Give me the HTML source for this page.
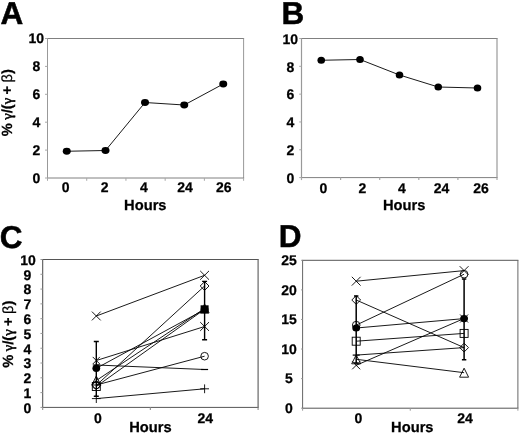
<!DOCTYPE html>
<html lang="en">
<head>
<meta charset="utf-8">
<title>Figure</title>
<style>
html,body{margin:0;padding:0;background:#fff;}
body{width:520px;height:434px;overflow:hidden;}
svg{display:block;}
text{font-family:"Liberation Sans", Arial, Helvetica, sans-serif;font-weight:bold;fill:#000;stroke:#000;stroke-width:0.25px;text-rendering:geometricPrecision;}
.g{font-family:"Liberation Serif","DejaVu Serif",serif;font-weight:normal;stroke-width:0.5px;}
.yt{word-spacing:-0.7px;}
.b{font-family:"Liberation Sans","DejaVu Sans",sans-serif;font-weight:normal;}
</style>
</head>
<body>
<svg width="520" height="434" viewBox="0 0 520 434">
<rect x="0" y="0" width="520" height="434" fill="#fff"/>
<text x="0.60" y="23.80" font-size="31.5" text-anchor="start" style="stroke-width:0.5px">A</text>
<text x="281.40" y="24.00" font-size="31.5" text-anchor="start" style="stroke-width:0.5px">B</text>
<text x="-0.30" y="247.50" font-size="31.5" text-anchor="start" style="stroke-width:0.5px">C</text>
<text x="278.80" y="246.80" font-size="31.5" text-anchor="start" style="stroke-width:0.5px">D</text>
<line x1="47.00" y1="38.50" x2="244.10" y2="38.50" stroke="#808080" stroke-width="1" />
<line x1="243.60" y1="38.50" x2="243.60" y2="178.00" stroke="#999" stroke-width="1" />
<line x1="47.00" y1="178.00" x2="244.10" y2="178.00" stroke="#808080" stroke-width="1" />
<line x1="47.50" y1="38.50" x2="47.50" y2="178.00" stroke="#999" stroke-width="1" />
<line x1="45.00" y1="38.50" x2="47.50" y2="38.50" stroke="#a8a8a8" stroke-width="1" />
<line x1="45.00" y1="150.10" x2="47.50" y2="150.10" stroke="#a8a8a8" stroke-width="1" />
<line x1="45.00" y1="122.20" x2="47.50" y2="122.20" stroke="#a8a8a8" stroke-width="1" />
<line x1="45.00" y1="94.30" x2="47.50" y2="94.30" stroke="#a8a8a8" stroke-width="1" />
<line x1="45.00" y1="66.40" x2="47.50" y2="66.40" stroke="#a8a8a8" stroke-width="1" />
<line x1="45.00" y1="178.00" x2="47.50" y2="178.00" stroke="#a8a8a8" stroke-width="1" />
<line x1="47.50" y1="178.00" x2="47.50" y2="180.80" stroke="#a8a8a8" stroke-width="1" />
<line x1="86.72" y1="178.00" x2="86.72" y2="180.80" stroke="#a8a8a8" stroke-width="1" />
<line x1="125.94" y1="178.00" x2="125.94" y2="180.80" stroke="#a8a8a8" stroke-width="1" />
<line x1="165.16" y1="178.00" x2="165.16" y2="180.80" stroke="#a8a8a8" stroke-width="1" />
<line x1="204.38" y1="178.00" x2="204.38" y2="180.80" stroke="#a8a8a8" stroke-width="1" />
<line x1="243.60" y1="178.00" x2="243.60" y2="180.80" stroke="#a8a8a8" stroke-width="1" />
<text x="36.30" y="182.70" font-size="14" text-anchor="middle" >0</text>
<text x="36.30" y="154.80" font-size="14" text-anchor="middle" >2</text>
<text x="36.30" y="126.90" font-size="14" text-anchor="middle" >4</text>
<text x="36.30" y="99.00" font-size="14" text-anchor="middle" >6</text>
<text x="36.30" y="71.10" font-size="14" text-anchor="middle" >8</text>
<text x="36.30" y="43.20" font-size="14" text-anchor="middle" >10</text>
<text x="65.60" y="192.30" font-size="14" text-anchor="middle" >0</text>
<text x="104.60" y="192.30" font-size="14" text-anchor="middle" >2</text>
<text x="143.90" y="192.30" font-size="14" text-anchor="middle" >4</text>
<text x="185.00" y="192.30" font-size="14" text-anchor="middle" >24</text>
<text x="223.80" y="192.30" font-size="14" text-anchor="middle" >26</text>
<text x="145.30" y="209.70" font-size="14.7" text-anchor="middle" >Hours</text>
<text transform="translate(12.20,102.70) rotate(-90)" font-size="14.7" text-anchor="middle" class="yt">% <tspan class="g">γ</tspan>/(<tspan class="g">γ</tspan> + <tspan class="b">β</tspan>)</text>
<polyline points="66.75,151.25 105.50,150.50 145.00,102.50 184.25,105.00 223.25,84.00" fill="none" stroke="#000" stroke-width="0.9"/>
<ellipse cx="66.75" cy="151.25" rx="4.0" ry="3.4" fill="#000"/>
<ellipse cx="105.50" cy="150.50" rx="4.0" ry="3.4" fill="#000"/>
<ellipse cx="145.00" cy="102.50" rx="4.0" ry="3.4" fill="#000"/>
<ellipse cx="184.25" cy="105.00" rx="4.0" ry="3.4" fill="#000"/>
<ellipse cx="223.25" cy="84.00" rx="4.0" ry="3.4" fill="#000"/>
<line x1="300.90" y1="38.50" x2="497.60" y2="38.50" stroke="#808080" stroke-width="1" />
<line x1="497.00" y1="38.50" x2="497.00" y2="177.60" stroke="#999" stroke-width="1.2" />
<line x1="300.90" y1="177.60" x2="497.60" y2="177.60" stroke="#808080" stroke-width="1" />
<line x1="301.50" y1="38.50" x2="301.50" y2="177.60" stroke="#999" stroke-width="1.2" />
<line x1="299.20" y1="38.50" x2="301.50" y2="38.50" stroke="#a8a8a8" stroke-width="1" />
<line x1="299.20" y1="149.78" x2="301.50" y2="149.78" stroke="#a8a8a8" stroke-width="1" />
<line x1="299.20" y1="121.96" x2="301.50" y2="121.96" stroke="#a8a8a8" stroke-width="1" />
<line x1="299.20" y1="94.14" x2="301.50" y2="94.14" stroke="#a8a8a8" stroke-width="1" />
<line x1="299.20" y1="66.32" x2="301.50" y2="66.32" stroke="#a8a8a8" stroke-width="1" />
<line x1="299.20" y1="177.60" x2="301.50" y2="177.60" stroke="#a8a8a8" stroke-width="1" />
<line x1="301.50" y1="177.60" x2="301.50" y2="180.10" stroke="#a8a8a8" stroke-width="1.2" />
<line x1="340.60" y1="177.60" x2="340.60" y2="180.10" stroke="#a8a8a8" stroke-width="1.2" />
<line x1="379.70" y1="177.60" x2="379.70" y2="180.10" stroke="#a8a8a8" stroke-width="1.2" />
<line x1="418.80" y1="177.60" x2="418.80" y2="180.10" stroke="#a8a8a8" stroke-width="1.2" />
<line x1="457.90" y1="177.60" x2="457.90" y2="180.10" stroke="#a8a8a8" stroke-width="1.2" />
<line x1="497.00" y1="177.60" x2="497.00" y2="180.10" stroke="#a8a8a8" stroke-width="1.2" />
<text x="290.30" y="182.80" font-size="14" text-anchor="middle" >0</text>
<text x="290.30" y="154.98" font-size="14" text-anchor="middle" >2</text>
<text x="290.30" y="127.16" font-size="14" text-anchor="middle" >4</text>
<text x="290.30" y="99.34" font-size="14" text-anchor="middle" >6</text>
<text x="290.30" y="71.52" font-size="14" text-anchor="middle" >8</text>
<text x="290.30" y="43.70" font-size="14" text-anchor="middle" >10</text>
<text x="323.50" y="192.80" font-size="14" text-anchor="middle" >0</text>
<text x="362.50" y="192.80" font-size="14" text-anchor="middle" >2</text>
<text x="402.00" y="192.80" font-size="14" text-anchor="middle" >4</text>
<text x="441.60" y="192.80" font-size="14" text-anchor="middle" >24</text>
<text x="481.00" y="192.80" font-size="14" text-anchor="middle" >26</text>
<text x="404.20" y="209.70" font-size="14.7" text-anchor="middle" >Hours</text>
<polyline points="321.25,60.25 360.00,59.50 399.50,75.00 438.25,87.00 477.50,88.00" fill="none" stroke="#000" stroke-width="0.9"/>
<ellipse cx="321.25" cy="60.25" rx="3.8" ry="3.6" fill="#000"/>
<ellipse cx="360.00" cy="59.50" rx="3.8" ry="3.6" fill="#000"/>
<ellipse cx="399.50" cy="75.00" rx="3.8" ry="3.6" fill="#000"/>
<ellipse cx="438.25" cy="87.00" rx="3.8" ry="3.6" fill="#000"/>
<ellipse cx="477.50" cy="88.00" rx="3.8" ry="3.6" fill="#000"/>
<line x1="42.05" y1="259.50" x2="258.70" y2="259.50" stroke="#555" stroke-width="1" />
<line x1="258.10" y1="259.50" x2="258.10" y2="407.40" stroke="#666" stroke-width="1.2" />
<line x1="42.05" y1="407.40" x2="258.70" y2="407.40" stroke="#555" stroke-width="1" />
<line x1="42.65" y1="259.50" x2="42.65" y2="407.40" stroke="#666" stroke-width="1.2" />
<line x1="40.45" y1="259.50" x2="42.65" y2="259.50" stroke="#999" stroke-width="1" />
<line x1="40.45" y1="392.61" x2="42.65" y2="392.61" stroke="#999" stroke-width="1" />
<line x1="40.45" y1="377.82" x2="42.65" y2="377.82" stroke="#999" stroke-width="1" />
<line x1="40.45" y1="363.03" x2="42.65" y2="363.03" stroke="#999" stroke-width="1" />
<line x1="40.45" y1="348.24" x2="42.65" y2="348.24" stroke="#999" stroke-width="1" />
<line x1="40.45" y1="333.45" x2="42.65" y2="333.45" stroke="#999" stroke-width="1" />
<line x1="40.45" y1="318.66" x2="42.65" y2="318.66" stroke="#999" stroke-width="1" />
<line x1="40.45" y1="303.87" x2="42.65" y2="303.87" stroke="#999" stroke-width="1" />
<line x1="40.45" y1="289.08" x2="42.65" y2="289.08" stroke="#999" stroke-width="1" />
<line x1="40.45" y1="274.29" x2="42.65" y2="274.29" stroke="#999" stroke-width="1" />
<line x1="40.45" y1="407.40" x2="42.65" y2="407.40" stroke="#999" stroke-width="1" />
<line x1="42.65" y1="407.40" x2="42.65" y2="409.90" stroke="#999" stroke-width="1.2" />
<line x1="150.38" y1="407.40" x2="150.38" y2="409.90" stroke="#999" stroke-width="1.2" />
<line x1="258.10" y1="407.40" x2="258.10" y2="409.90" stroke="#999" stroke-width="1.2" />
<text x="27.50" y="412.80" font-size="14" text-anchor="middle" >0</text>
<text x="27.50" y="398.01" font-size="14" text-anchor="middle" >1</text>
<text x="27.50" y="383.22" font-size="14" text-anchor="middle" >2</text>
<text x="27.50" y="368.43" font-size="14" text-anchor="middle" >3</text>
<text x="27.50" y="353.64" font-size="14" text-anchor="middle" >4</text>
<text x="27.50" y="338.85" font-size="14" text-anchor="middle" >5</text>
<text x="27.50" y="324.06" font-size="14" text-anchor="middle" >6</text>
<text x="27.50" y="309.27" font-size="14" text-anchor="middle" >7</text>
<text x="27.50" y="294.48" font-size="14" text-anchor="middle" >8</text>
<text x="27.50" y="279.69" font-size="14" text-anchor="middle" >9</text>
<text x="28.10" y="264.90" font-size="14" text-anchor="middle" >10</text>
<text x="97.80" y="422.80" font-size="14" text-anchor="middle" >0</text>
<text x="205.20" y="422.50" font-size="14" text-anchor="middle" >24</text>
<text x="150.40" y="432.00" font-size="14.7" text-anchor="middle" >Hours</text>
<text transform="translate(12.60,334.20) rotate(-90)" font-size="14.7" text-anchor="middle" class="yt">% <tspan class="g">γ</tspan>/(<tspan class="g">γ</tspan> + <tspan class="b">β</tspan>)</text>
<line x1="96.30" y1="316.00" x2="204.60" y2="275.30" stroke="#000" stroke-width="0.9" />
<line x1="96.30" y1="385.30" x2="204.60" y2="286.00" stroke="#000" stroke-width="0.9" />
<line x1="96.30" y1="380.50" x2="204.60" y2="308.50" stroke="#000" stroke-width="0.9" />
<line x1="96.30" y1="386.50" x2="204.60" y2="309.30" stroke="#000" stroke-width="0.9" />
<line x1="96.30" y1="360.50" x2="204.60" y2="326.50" stroke="#000" stroke-width="0.9" />
<line x1="96.30" y1="365.00" x2="204.60" y2="369.50" stroke="#000" stroke-width="0.9" />
<line x1="96.30" y1="385.00" x2="204.60" y2="356.20" stroke="#000" stroke-width="0.9" />
<line x1="96.30" y1="398.60" x2="204.60" y2="388.80" stroke="#000" stroke-width="0.9" />
<line x1="96.30" y1="368.30" x2="204.60" y2="309.60" stroke="#000" stroke-width="0.9" />
<path d="M96.30 341.50L96.30 396.20M93.80 341.50L98.80 341.50M93.80 396.20L98.80 396.20" fill="none" stroke="#000" stroke-width="1.4"/>
<path d="M204.60 281.40L204.60 339.80M202.10 281.40L207.10 281.40M202.10 339.80L207.10 339.80" fill="none" stroke="#000" stroke-width="1.4"/>
<path d="M91.90 311.60L100.70 320.40M91.90 320.40L100.70 311.60" fill="none" stroke="#000" stroke-width="0.9"/>
<path d="M200.20 270.90L209.00 279.70M200.20 279.70L209.00 270.90" fill="none" stroke="#000" stroke-width="0.9"/>
<path d="M91.90 385.30L96.30 380.90L100.70 385.30L96.30 389.70Z" fill="none" stroke="#000" stroke-width="0.9"/>
<path d="M200.20 286.00L204.60 281.60L209.00 286.00L204.60 290.40Z" fill="none" stroke="#000" stroke-width="0.9"/>
<path d="M91.80 385.00L96.30 376.00L100.80 385.00Z" fill="none" stroke="#000" stroke-width="0.9"/>
<path d="M200.10 313.00L204.60 304.00L209.10 313.00Z" fill="none" stroke="#000" stroke-width="0.9"/>
<rect x="92.30" y="382.50" width="8.00" height="8.00" fill="none" stroke="#000" stroke-width="0.9"/>
<rect x="200.60" y="305.30" width="8.00" height="8.00" fill="#000"/>
<path d="M92.70 356.90L99.90 364.10M92.70 364.10L99.90 356.90" fill="none" stroke="#000" stroke-width="0.9"/>
<path d="M200.20 322.10L209.00 330.90M200.20 330.90L209.00 322.10M204.60 322.10L204.60 330.90" fill="none" stroke="#000" stroke-width="0.9"/>
<path d="M92.80 365.00L99.80 365.00" fill="none" stroke="#000" stroke-width="1.2"/>
<path d="M201.10 369.50L208.10 369.50" fill="none" stroke="#000" stroke-width="1.2"/>
<circle cx="96.30" cy="385.00" r="3.8" fill="none" stroke="#000" stroke-width="0.9"/>
<circle cx="204.60" cy="356.20" r="3.8" fill="none" stroke="#000" stroke-width="0.9"/>
<path d="M91.90 398.60L100.70 398.60M96.30 394.20L96.30 403.00" fill="none" stroke="#000" stroke-width="0.9"/>
<path d="M200.20 388.80L209.00 388.80M204.60 384.40L204.60 393.20" fill="none" stroke="#000" stroke-width="0.9"/>
<ellipse cx="96.30" cy="368.30" rx="3.9" ry="3.6" fill="#000"/>
<ellipse cx="204.60" cy="309.60" rx="3.9" ry="3.6" fill="#000"/>
<line x1="302.10" y1="260.30" x2="518.40" y2="260.30" stroke="#555" stroke-width="1" />
<line x1="517.90" y1="260.30" x2="517.90" y2="408.20" stroke="#666" stroke-width="1.0" />
<line x1="302.10" y1="408.20" x2="518.40" y2="408.20" stroke="#555" stroke-width="1" />
<line x1="302.60" y1="260.30" x2="302.60" y2="408.20" stroke="#666" stroke-width="1.0" />
<line x1="301.10" y1="260.30" x2="302.60" y2="260.30" stroke="#999" stroke-width="1" />
<line x1="301.10" y1="378.62" x2="302.60" y2="378.62" stroke="#999" stroke-width="1" />
<line x1="301.10" y1="349.04" x2="302.60" y2="349.04" stroke="#999" stroke-width="1" />
<line x1="301.10" y1="319.46" x2="302.60" y2="319.46" stroke="#999" stroke-width="1" />
<line x1="301.10" y1="289.88" x2="302.60" y2="289.88" stroke="#999" stroke-width="1" />
<line x1="301.10" y1="408.20" x2="302.60" y2="408.20" stroke="#999" stroke-width="1" />
<line x1="302.60" y1="408.20" x2="302.60" y2="410.70" stroke="#999" stroke-width="1.0" />
<line x1="410.25" y1="408.20" x2="410.25" y2="410.70" stroke="#999" stroke-width="1.0" />
<line x1="517.90" y1="408.20" x2="517.90" y2="410.70" stroke="#999" stroke-width="1.0" />
<text x="289.00" y="412.90" font-size="14" text-anchor="middle" >0</text>
<text x="289.00" y="383.32" font-size="14" text-anchor="middle" >5</text>
<text x="289.00" y="353.74" font-size="14" text-anchor="middle" >10</text>
<text x="289.00" y="324.16" font-size="14" text-anchor="middle" >15</text>
<text x="289.00" y="294.58" font-size="14" text-anchor="middle" >20</text>
<text x="289.00" y="265.00" font-size="14" text-anchor="middle" >25</text>
<text x="358.50" y="422.80" font-size="14" text-anchor="middle" >0</text>
<text x="465.00" y="422.50" font-size="14" text-anchor="middle" >24</text>
<text x="412.30" y="432.00" font-size="14.7" text-anchor="middle" >Hours</text>
<line x1="356.20" y1="281.20" x2="464.10" y2="270.60" stroke="#000" stroke-width="0.9" />
<line x1="356.20" y1="300.00" x2="464.10" y2="347.60" stroke="#000" stroke-width="0.9" />
<line x1="356.20" y1="325.10" x2="464.10" y2="274.20" stroke="#000" stroke-width="0.9" />
<line x1="356.20" y1="341.20" x2="464.10" y2="333.40" stroke="#000" stroke-width="0.9" />
<line x1="356.20" y1="355.10" x2="464.10" y2="347.60" stroke="#000" stroke-width="0.9" />
<line x1="356.20" y1="359.30" x2="464.10" y2="372.70" stroke="#000" stroke-width="0.9" />
<line x1="356.20" y1="365.30" x2="464.10" y2="318.50" stroke="#000" stroke-width="0.9" />
<line x1="356.20" y1="328.00" x2="464.10" y2="318.60" stroke="#000" stroke-width="0.9" />
<path d="M356.20 296.00L356.20 363.00M354.00 296.00L358.40 296.00M354.00 363.00L358.40 363.00" fill="none" stroke="#000" stroke-width="1.5"/>
<path d="M464.10 279.00L464.10 359.80M461.90 279.00L466.30 279.00M461.90 359.80L466.30 359.80" fill="none" stroke="#000" stroke-width="1.5"/>
<path d="M351.80 276.80L360.60 285.60M351.80 285.60L360.60 276.80" fill="none" stroke="#000" stroke-width="0.9"/>
<path d="M459.70 266.20L468.50 275.00M459.70 275.00L468.50 266.20" fill="none" stroke="#000" stroke-width="0.9"/>
<path d="M351.80 300.00L356.20 295.60L360.60 300.00L356.20 304.40Z" fill="none" stroke="#000" stroke-width="0.9"/>
<path d="M459.70 347.60L464.10 343.20L468.50 347.60L464.10 352.00Z" fill="none" stroke="#000" stroke-width="0.9"/>
<circle cx="356.20" cy="325.10" r="3.8" fill="none" stroke="#000" stroke-width="0.9"/>
<circle cx="464.10" cy="274.20" r="3.8" fill="none" stroke="#000" stroke-width="0.9"/>
<rect x="352.20" y="337.20" width="8.00" height="8.00" fill="none" stroke="#000" stroke-width="0.9"/>
<rect x="460.10" y="329.40" width="8.00" height="8.00" fill="none" stroke="#000" stroke-width="0.9"/>
<path d="M352.70 355.10L359.70 355.10" fill="none" stroke="#000" stroke-width="1.2"/>
<path d="M351.70 363.80L356.20 354.80L360.70 363.80Z" fill="none" stroke="#000" stroke-width="0.9"/>
<path d="M459.60 377.20L464.10 368.20L468.60 377.20Z" fill="none" stroke="#000" stroke-width="0.9"/>
<path d="M352.20 361.30L360.20 369.30M352.20 369.30L360.20 361.30" fill="none" stroke="#000" stroke-width="0.9"/>
<path d="M460.10 314.50L468.10 322.50M460.10 322.50L468.10 314.50M464.10 314.50L464.10 322.50" fill="none" stroke="#000" stroke-width="0.9"/>
<ellipse cx="356.20" cy="328.00" rx="3.9" ry="3.6" fill="#000"/>
<ellipse cx="464.10" cy="318.60" rx="3.9" ry="3.6" fill="#000"/>
</svg>
</body>
</html>
